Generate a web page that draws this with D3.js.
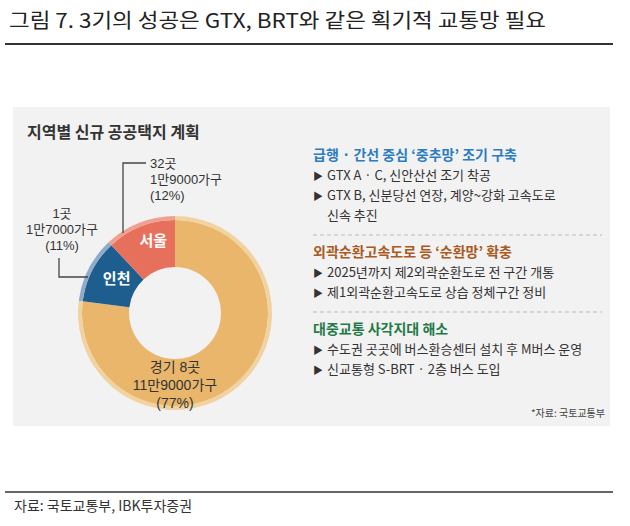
<!DOCTYPE html>
<html><head><meta charset="utf-8">
<script src="https://cdn.jsdelivr.net/npm/d3@7"></script>
<style>body{margin:0;background:#fff;}svg{display:block;}</style>
</head><body>
<script>
const titleText = "그림 7. 3기의 성공은 GTX, BRT와 같은 획기적 교통망 필요";
const panelTitle = "지역별 신규 공공택지 계획";
const regions = ["경기", "인천", "서울"];
const shares = [77, 11, 12];
const sites = ["8곳", "1곳", "32곳"];
const households = ["11만9000가구", "1만7000가구", "1만9000가구"];
const colors = ["#E9B66C", "#1D5E8E", "#E6705B"];
const rimColors = ["#F1D2A0", "#8FAACB", "#EFA090"];
const sections = [
  {head: "급행 · 간선 중심 ‘중추망’ 조기 구축", color: "#2B7CC1",
   items: [["GTX A · C, 신안산선 조기 착공"], ["GTX B, 신분당선 연장, 계양~강화 고속도로", "신속 추진"]]},
  {head: "외곽순환고속도로 등 ‘순환망’ 확충", color: "#A85A22",
   items: [["2025년까지 제2외곽순환도로 전 구간 개통"], ["제1외곽순환고속도로 상습 정체구간 정비"]]},
  {head: "대중교통 사각지대 해소", color: "#1F7A48",
   items: [["수도권 곳곳에 버스환승센터 설치 후 M버스 운영"], ["신교통형 S-BRT · 2층 버스 도입"]]}
];
const panelSource = "*자료: 국토교통부";
const footerText = "자료: 국토교통부, IBK투자증권";

const W = 630, H = 526;
const font = "'Noto Sans CJK KR','Noto Sans',sans-serif";
const labelFont = "'Liberation Sans','Noto Sans CJK KR',sans-serif";
const svg = d3.select("body").append("svg").attr("width", W).attr("height", H)
  .style("font-family", font);

// Title
svg.append("text").attr("x", 9).attr("y", 28).attr("font-size", 20).attr("fill", "#222")
  .attr("textLength", 537).attr("lengthAdjust", "spacingAndGlyphs").text(titleText);
svg.append("line").attr("x1", 5).attr("x2", 613).attr("y1", 44).attr("y2", 44)
  .attr("stroke", "#333").attr("stroke-width", 2);

// Panel
svg.append("rect").attr("x", 13).attr("y", 107).attr("width", 597).attr("height", 319).attr("fill", "#F2F2F2");
svg.append("text").attr("x", 27).attr("y", 138).attr("font-size", 16).attr("font-weight", "bold")
  .attr("fill", "#333").text(panelTitle);

// Donut
const cx = 175, cy = 313, rOut = 97, rIn = 46, rim = 4;
const g = svg.append("g").attr("transform", `translate(${cx},${cy})`);
const pie = d3.pie().sort(null).value(d => d)(shares);
const arc = d3.arc().innerRadius(rIn).outerRadius(rOut - rim);
const arcRim = d3.arc().innerRadius(rOut - rim).outerRadius(rOut);
g.selectAll("path.main").data(pie).join("path").attr("class", "main")
  .attr("d", arc).attr("fill", (d, i) => colors[i]);
g.selectAll("path.rim").data(pie).join("path").attr("class", "rim")
  .attr("d", arcRim).attr("fill", (d, i) => rimColors[i]);

// in-slice labels for 인천, 서울
const labelArc = d3.arc().innerRadius(rIn + 24).outerRadius(rIn + 24);
[1, 2].forEach(i => {
  const c = labelArc.centroid(pie[i]);
  g.append("text").attr("x", c[0] + 4).attr("y", c[1] + (i === 1 ? -4 : -8))
    .attr("text-anchor", "middle").attr("dominant-baseline", "central")
    .attr("font-size", 15).attr("font-weight", "bold").attr("fill", "#fff").text(regions[i]);
});

// multi-line label helper (separate text elements)
function multi(lines, x, y0, dy, size, anchor) {
  lines.forEach((t, k) => {
    svg.append("text").attr("x", x).attr("y", y0 + k * dy).attr("text-anchor", anchor)
      .attr("font-size", size).attr("fill", "#333").style("font-family", labelFont).text(t);
  });
}

// 경기 label inside bottom
multi([`${regions[0]} ${sites[0]}`, households[0], `(${shares[0]}%)`], cx, 372, 18, 14, "middle");

// 서울 callout
multi([sites[2], households[2], `(${shares[2]}%)`], 150, 168, 16, 13, "start");
svg.append("path").attr("d", "M146,163 H123 V233").attr("fill", "none").attr("stroke", "#444").attr("stroke-width", 1.3);

// 인천 callout
multi([sites[1], households[1], `(${shares[1]}%)`], 62, 218, 16, 13, "middle");
svg.append("path").attr("d", "M59,258 V277 H88").attr("fill", "none").attr("stroke", "#444").attr("stroke-width", 1.3);

// Right text
let y = 160;
sections.forEach((s, si) => {
  svg.append("text").attr("x", 313).attr("y", y).attr("font-size", 14).attr("font-weight", "bold")
    .attr("fill", s.color).text(s.head);
  y += 20;
  s.items.forEach(lines => {
    lines.forEach((ln, li) => {
      if (li === 0) {
        svg.append("text").attr("x", 313).attr("y", y).attr("font-size", 10).attr("fill", "#333").text("▶");
      }
      svg.append("text").attr("x", 327).attr("y", y).attr("font-size", 13).attr("fill", "#333").text(ln);
      y += 20;
    });
  });
  if (si < sections.length - 1) {
    svg.append("line").attr("x1", 313).attr("x2", 602).attr("y1", y - 5).attr("y2", y - 5)
      .attr("stroke", "#BBB").attr("stroke-dasharray", "4,3");
    y += 17;
  }
});
svg.append("text").attr("x", 605).attr("y", 417).attr("text-anchor", "end").attr("font-size", 10)
  .attr("fill", "#444").text(panelSource);

// Footer
svg.append("line").attr("x1", 5).attr("x2", 613).attr("y1", 492).attr("y2", 492)
  .attr("stroke", "#333").attr("stroke-width", 1.5);
svg.append("text").attr("x", 14).attr("y", 511).attr("font-size", 14).attr("fill", "#333").text(footerText);
</script>
</body></html>
